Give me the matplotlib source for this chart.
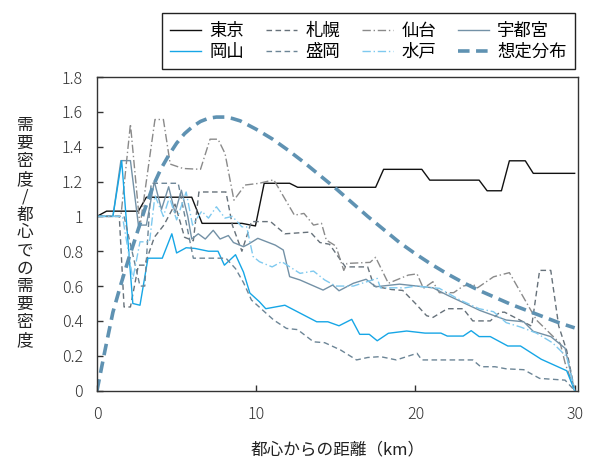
import matplotlib
matplotlib.use("Agg")
import matplotlib.pyplot as plt

plt.rcParams['font.family'] = ['Noto Sans CJK JP', 'DejaVu Sans']

# ---- data (distance km, relative demand density) ----
tokyo_x = [0, 0.6, 2.6, 3.1, 5.95, 6.6, 9.1, 9.95, 10.5, 12.1, 12.6, 17.5, 18.0, 20.4, 20.9,
           24.0, 24.5, 25.4, 25.9, 26.9, 27.4, 30]
tokyo_y = [1.0, 1.03, 1.03, 1.11, 1.11, 0.96, 0.96, 0.945, 1.19, 1.19, 1.167, 1.167, 1.27, 1.27,
           1.208, 1.208, 1.147, 1.147, 1.319, 1.319, 1.247, 1.247]

sapporo_x = [0, 1.4, 1.7, 2.1, 2.6, 3.0, 3.6, 4.2, 4.9, 5.5, 6.05, 6.4, 8.1, 8.5, 9.1, 9.7,
             10.9, 11.8, 13.4, 14.0, 14.6, 15.6, 17.0, 17.4, 18.5, 19.2, 20.0, 20.7, 21.1,
             22.0, 23.0, 23.6, 24.7, 25.3, 25.6, 27.3, 27.8, 28.5, 29.0, 29.5, 30]
sapporo_y = [1.0, 1.0, 0.48, 0.48, 0.72, 0.72, 0.88, 0.95, 1.07, 0.88, 0.86, 1.14, 1.14, 0.95,
             0.80, 0.97, 0.97, 0.90, 0.91, 0.85, 0.84, 0.71, 0.71, 0.60, 0.58, 0.575, 0.50,
             0.43, 0.42, 0.47, 0.47, 0.40, 0.40, 0.45, 0.45, 0.37, 0.69, 0.69, 0.37, 0.23, 0.0]

sendai_x = [0, 1.5, 2.1, 2.7, 3.64, 4.17, 4.6, 5.4, 6.5, 7.1, 7.6, 8.04, 8.6, 9.3, 10.2, 11.1,
            12.4, 13.0, 13.6, 14.1, 14.4, 15.0, 15.5, 15.7, 17.15, 17.5, 18.3, 19.55, 20.1,
            20.5, 21.1, 21.5, 22.4, 23.0, 23.6, 23.9, 24.9, 25.9, 27.6, 29.1, 29.4, 30]
sendai_y = [1.0, 1.0, 1.53, 0.94, 1.556, 1.556, 1.30, 1.275, 1.27, 1.443, 1.443, 1.361, 1.093,
            1.18, 1.19, 1.21, 1.007, 1.017, 0.95, 0.96, 0.864, 0.83, 0.69, 0.73, 0.736, 0.765,
            0.616, 0.663, 0.67, 0.587, 0.625, 0.562, 0.562, 0.60, 0.611, 0.59, 0.653, 0.677,
            0.405, 0.27, 0.158, 0.0]

utsunomiya_x = [0, 1.0, 1.5, 2.1, 2.6, 3.1, 3.6, 4.05, 4.5, 4.9, 5.3, 5.7, 5.95, 6.36, 6.8,
                7.3, 7.73, 8.25, 8.57, 9.2, 9.5, 10.1, 11.2, 11.7, 12.1, 12.75, 14.2, 14.8,
                15.2, 16.1, 16.9, 17.5, 19.0, 21.1, 22.0, 24.05, 25.7, 26.8, 27.4, 28.5, 29.4, 30]
utsunomiya_y = [1.0, 1.0, 1.32, 1.32, 0.95, 0.95, 1.2, 1.04, 1.17, 1.02, 1.15, 1.0, 0.87, 0.90,
                0.87, 0.92, 0.87, 0.89, 0.85, 0.826, 0.84, 0.874, 0.835, 0.807, 0.654, 0.635,
                0.577, 0.606, 0.573, 0.616, 0.639, 0.596, 0.611, 0.59, 0.548, 0.46, 0.405,
                0.395, 0.34, 0.31, 0.243, 0.0]

okayama_x = [0, 1.0, 1.55, 2.25, 2.7, 3.2, 4.1, 4.7, 5.0, 5.6, 6.15, 7.0, 7.6, 8.0, 8.7, 9.2,
             9.6, 10.2, 10.6, 11.8, 13.8, 14.5, 15.2, 16.0, 16.5, 17.1, 17.6, 18.3, 19.45,
             20.6, 21.6, 22.0, 23.0, 23.5, 24.0, 24.7, 25.8, 26.6, 27.9, 29.5, 30]
okayama_y = [1.0, 1.0, 1.32, 0.50, 0.49, 0.76, 0.76, 0.90, 0.79, 0.82, 0.816, 0.80, 0.80, 0.72,
             0.78, 0.68, 0.56, 0.51, 0.47, 0.49, 0.395, 0.395, 0.372, 0.409, 0.323, 0.323,
             0.286, 0.329, 0.342, 0.33, 0.33, 0.313, 0.313, 0.344, 0.31, 0.31, 0.256, 0.256,
             0.18, 0.114, 0.0]

morioka_x = [0, 1.7, 2.7, 3.0, 3.4, 5.1, 6.05, 8.1, 8.7, 9.2, 9.7, 10.55, 11.1, 11.9, 12.6,
             13.6, 14.3, 15.3, 16.3, 17.0, 17.8, 18.8, 20.1, 20.4, 23.6, 24.1, 25.0, 25.7,
             26.8, 27.8, 29.4, 30]
morioka_y = [1.0, 1.0, 0.60, 0.60, 1.19, 1.19, 0.76, 0.76, 0.70, 0.62, 0.52, 0.45, 0.405,
             0.357, 0.35, 0.28, 0.275, 0.233, 0.176, 0.19, 0.195, 0.176, 0.214, 0.176, 0.176,
             0.137, 0.137, 0.125, 0.12, 0.07, 0.06, 0.0]

mito_x = [0, 1.6, 2.25, 2.7, 3.3, 3.64, 4.17, 4.55, 5.0, 5.6, 6.0, 6.58, 7.0, 7.5, 8.04, 8.5,
          9.1, 9.4, 9.8, 10.2, 11.0, 11.6, 12.75, 13.6, 14.3, 15.0, 16.1, 17.6, 17.8, 19.35,
          20.0, 21.5, 22.8, 24.0, 24.9, 25.7, 26.6, 27.6, 28.6, 29.5, 30]
mito_y = [1.0, 1.0, 0.64, 0.854, 0.854, 1.12, 1.0, 1.11, 0.98, 1.14, 0.95, 1.03, 0.99, 1.055,
          0.99, 1.0, 0.94, 0.94, 0.77, 0.74, 0.71, 0.74, 0.673, 0.686, 0.635, 0.60, 0.60,
          0.644, 0.59, 0.59, 0.60, 0.587, 0.52, 0.47, 0.453, 0.39, 0.365, 0.33, 0.275, 0.195, 0.0]

model_x = [0, 0.5, 1, 1.5, 2, 2.5, 3, 3.5, 4, 4.5, 5, 5.5, 6, 6.5, 7, 7.5, 8, 8.5, 9, 10, 11,
           12, 13, 14, 15, 16, 17, 18, 19, 20, 21, 22, 23, 24, 25, 26, 27, 28, 29, 30]
model_y = [0.0, 0.23, 0.45, 0.61, 0.76, 0.90, 1.04, 1.17, 1.27, 1.35, 1.42, 1.475, 1.515, 1.545,
           1.563, 1.57, 1.57, 1.562, 1.548, 1.50, 1.445, 1.38, 1.31, 1.235, 1.16, 1.08, 1.0,
           0.925, 0.85, 0.785, 0.725, 0.67, 0.62, 0.575, 0.535, 0.495, 0.46, 0.425, 0.39, 0.36]

x_ticks = [0, 10, 20, 30]
y_ticks = [0, 0.2, 0.4, 0.6, 0.8, 1.0, 1.2, 1.4, 1.6, 1.8]
y_tick_labels = ["0", "0.2", "0.4", "0.6", "0.8", "1", "1.2", "1.4", "1.6", "1.8"]

# ---- figure ----
fig = plt.figure(figsize=(5.97, 4.57), dpi=100)
ax = fig.add_axes([97 / 597, 1 - 390.6 / 457, (578 - 97) / 597, (390.6 - 77) / 457])

lw = 1.0
h_tokyo, = ax.plot(tokyo_x, tokyo_y, color='#111111', lw=lw, label='東京')
h_sapporo, = ax.plot(sapporo_x, sapporo_y, color='#66717a', lw=lw, dashes=(4, 2.5), label='札幌')
h_sendai, = ax.plot(sendai_x, sendai_y, color='#8a8a8a', lw=lw, dashes=(6, 2, 1, 2), label='仙台')
h_utsu, = ax.plot(utsunomiya_x, utsunomiya_y, color='#7391a6', lw=lw, label='宇都宮')
h_okayama, = ax.plot(okayama_x, okayama_y, color='#16a6e6', lw=lw, label='岡山')
h_morioka, = ax.plot(morioka_x, morioka_y, color='#6c8596', lw=lw, dashes=(4, 2.5), label='盛岡')
h_mito, = ax.plot(mito_x, mito_y, color='#7ec9ef', lw=lw, dashes=(6, 2, 1, 2), label='水戸')
h_model, = ax.plot(model_x, model_y, color='#5f92b2', lw=2.6, dashes=(3.2, 1.8), label='想定分布')

ax.set_xlim(0, 30.21)
ax.set_ylim(0, 1.8)
ax.set_xticks(x_ticks)
ax.set_xticklabels([str(v) for v in x_ticks], fontweight='light')
ax.set_yticks(y_ticks)
ax.set_yticklabels(y_tick_labels, fontweight='light')

for sp in ax.spines.values():
    sp.set_color('#333333')
    sp.set_linewidth(1.0)

ax.tick_params(axis='both', direction='in', length=4.5, width=1.0, color='#333333',
               labelsize=11.5, labelcolor='#333333')
ax.tick_params(axis='y', pad=10)
ax.tick_params(axis='x', pad=11)

ax.set_xlabel('都心からの距離（km）', fontsize=12, color='#222222', labelpad=13)

ylabel = '需要密度/都心での需要密度'
fig.text(25 / 597, 1 - 233 / 457, '\n'.join(ylabel), fontsize=12, color='#222222',
         ha='center', va='center', linespacing=1.07)

handles = [h_tokyo, h_okayama, h_sapporo, h_morioka, h_sendai, h_mito, h_utsu, h_model]
leg = fig.legend(handles=handles, labels=[h.get_label() for h in handles], ncol=4,
                 loc='upper left', bbox_to_anchor=(161.7 / 597, 1 - 13.3 / 457),
                 fontsize=12.5, frameon=True, fancybox=False, edgecolor='#222222',
                 framealpha=1, handlelength=1.75, handletextpad=0.48, columnspacing=1.3,
                 labelspacing=0.15, borderpad=0.5, borderaxespad=0)
leg.get_frame().set_linewidth(1.0)

fig.savefig('out.png', dpi=100)
